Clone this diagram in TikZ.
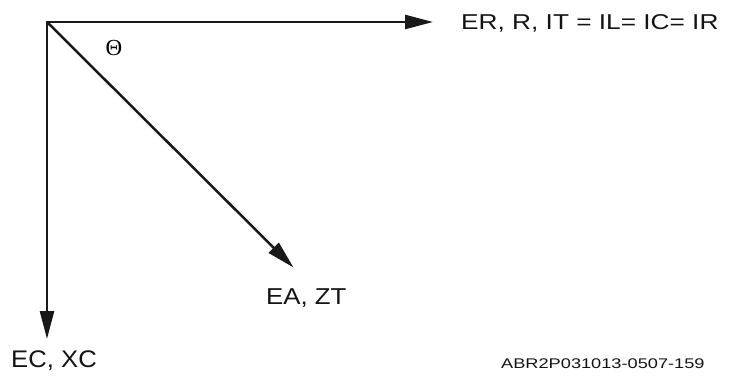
\documentclass[tikz,border=0pt]{standalone}
\usepackage{fontspec}
\usepackage{graphicx}
\usetikzlibrary{arrows.meta}
\newfontfamily\labfont{Liberation Sans}
\newfontfamily\thetafont{Liberation Serif}
\tikzset{
  vec/.style={line width=2.5pt, draw=black!90, -{Triangle[length=28pt,width=14pt]}},
  lab/.style={anchor=west, inner sep=0pt, text=black!92},
}
\newcommand{\stretchlab}[3]{\scalebox{#2}[1]{\labfont\fontsize{#1}{#1}\selectfont #3}}
\begin{document}
\begin{tikzpicture}[x=1pt,y=-1pt]
\useasboundingbox (0,0) rectangle (739,377);
\coordinate (o) at (47,22);
\coordinate (h) at (433,22);
\coordinate (v) at (47,339);
\coordinate (d) at (293.5,267.5);
\draw[line width=2.5pt, draw=black!90, {Triangle[length=28pt,width=14pt]}-{Triangle[length=28pt,width=14pt]}] (v) -- (o) -- (h);
\draw[vec] (o) -- (d);
\node[inner sep=0pt, text=black] (theta) at (114,48) {\thetafont\fontsize{23}{23}\selectfont Θ};
\node[lab] (er) at (461,23) {\stretchlab{21.5}{1.22}{ER, R, IT = IL= IC= IR}};
\node[lab] (ea) at (266,298) {\stretchlab{23}{1.12}{EA, ZT}};
\node[lab] (ec) at (11,360.5) {\stretchlab{24}{1.07}{EC, XC}};
\node[lab] (id) at (501,364) {\stretchlab{14}{1.3}{ABR2P031013-0507-159}};
\end{tikzpicture}
\end{document}
